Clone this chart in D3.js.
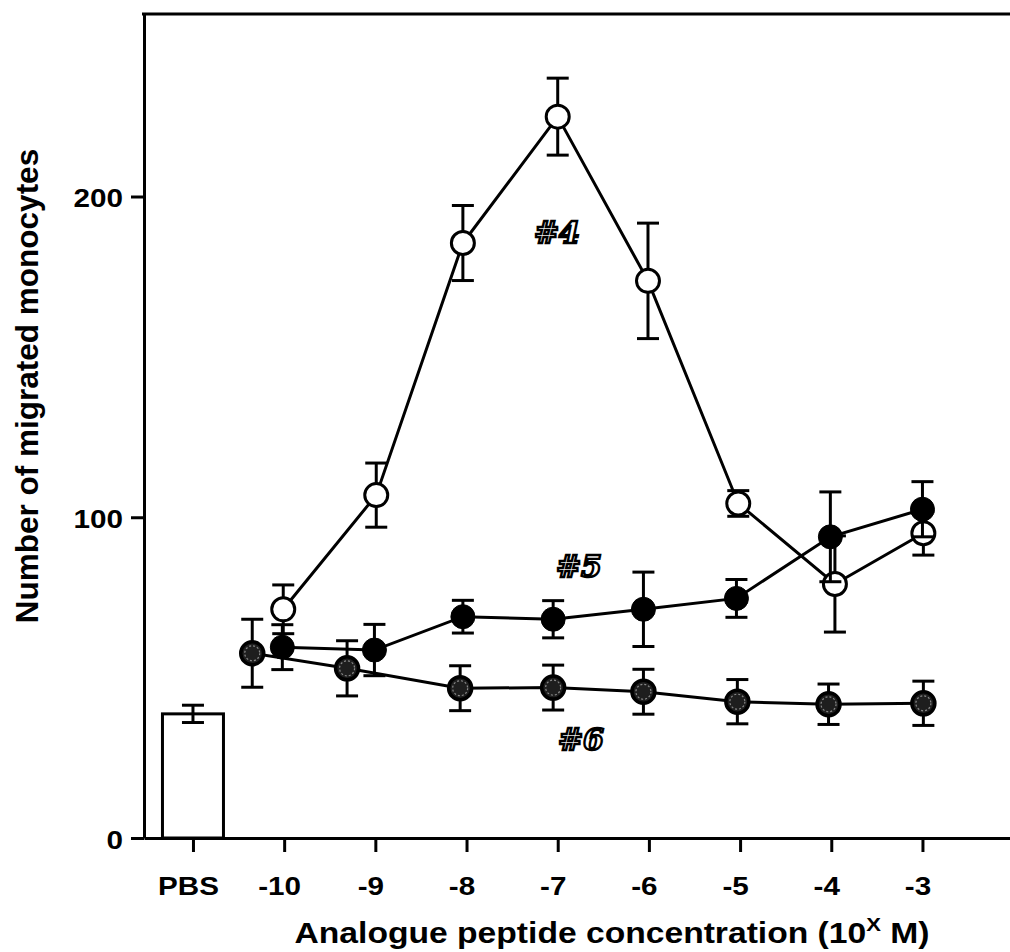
<!DOCTYPE html>
<html><head><meta charset="utf-8">
<script src="https://cdn.jsdelivr.net/npm/d3@7"></script>
<style>body{margin:0;background:#fff;} svg{display:block;}</style>
</head><body>
<svg id="chart" width="1010" height="952"></svg>
<script>
// Axis ticks (log10 molar concentration; PBS control sits at -11)
const tickValues = [-11, -10, -9, -8, -7, -6, -5, -4, -3];
const tickLabels = ["PBS", "-10", "-9", "-8", "-7", "-6", "-5", "-4", "-3"];
const yTickValues = [0, 100, 200];

// PBS control bar
const pbsX = -11;
const pbsMean = 38.7;
const pbsErr = 2.7;

// Analogue #4 (open circles)
const p4X = [-10.01, -8.99, -8.04, -7.0, -6.01, -5.02, -3.96, -2.99];
const p4Y = [71.3, 106.9, 185.5, 224.9, 173.7, 104.3, 79.2, 95.0];
const p4Err = [7.6, 10, 11.7, 12, 18, 4, 15, 6.8];

// Analogue #5 (filled circles)
const p5X = [-10.02, -9.01, -8.04, -7.05, -6.06, -5.04, -4.01, -3.0];
const p5Y = [59.5, 58.6, 69.0, 68.2, 71.3, 74.7, 93.9, 102.5];
const p5Err = [7, 8, 5.1, 5.8, 11.6, 5.9, 14, 8.6];

// Analogue #6 (shaded circles)
const p6X = [-10.35, -9.31, -8.07, -7.05, -6.06, -5.03, -4.03, -2.99];
const p6Y = [57.6, 52.9, 46.7, 46.9, 45.6, 42.5, 41.7, 42.0];
const p6Err = [10.6, 8.6, 7, 7, 7, 6.9, 6.3, 6.9];

const svg = d3.select("#chart");
const FONT = "'Liberation Sans', Arial, Helvetica, sans-serif";
const WIDE = 1.14; // horizontal stretch of the bold sans lettering

const x = d3.scaleLinear().domain([-11.537, -2.04]).range([144, 1010]);
const y = d3.scaleLinear().domain([0, 256.9]).range([838, 14]);

const zip = (xs, ys, es) => xs.map((v, i) => ({x: v, y: ys[i], e: es[i]}));
const s4 = zip(p4X, p4Y, p4Err);
const s5 = zip(p5X, p5Y, p5Err);
const s6 = zip(p6X, p6Y, p6Err);

// Frame: top rule
svg.append("line")
  .attr("x1", 142).attr("x2", 1010).attr("y1", y.range()[1]).attr("y2", y.range()[1])
  .attr("stroke", "#000").attr("stroke-width", 3);

// X axis
const xAxis = svg.append("g").attr("transform", `translate(0,${y(0)})`)
  .call(d3.axisBottom(x).tickValues(tickValues)
    .tickFormat((d, i) => tickLabels[i]).tickSize(14).tickSizeOuter(0));
xAxis.select(".domain").attr("stroke-width", 3);
xAxis.selectAll(".tick line").attr("stroke-width", 3);
xAxis.selectAll(".tick text")
  .attr("y", 57).attr("dy", 0).attr("x", -5 / WIDE)
  .attr("transform", `scale(${WIDE},1)`)
  .attr("font-family", FONT).attr("font-weight", "bold").attr("font-size", 26).attr("fill", "#000");

// Y axis
const yAxis = svg.append("g").attr("transform", `translate(${x.range()[0]},0)`)
  .call(d3.axisLeft(y).tickValues(yTickValues).tickFormat(d3.format("d"))
    .tickSize(13).tickSizeOuter(0));
yAxis.select(".domain").attr("stroke-width", 3);
yAxis.selectAll(".tick line").attr("stroke-width", 3);
yAxis.selectAll(".tick text")
  .attr("x", -21 / WIDE).attr("dy", "0.4em")
  .attr("transform", `scale(${WIDE},1)`)
  .attr("font-family", FONT).attr("font-weight", "bold").attr("font-size", 26).attr("fill", "#000");

// Axis titles
svg.append("text")
  .attr("transform", `translate(612,943) scale(1.16,1)`)
  .attr("text-anchor", "middle")
  .attr("font-family", FONT).attr("font-weight", "bold").attr("font-size", 29)
  .call(t => {
    t.append("tspan").text("Analogue peptide concentration (10");
    t.append("tspan").text("X").attr("font-size", 19).attr("dy", -12);
    t.append("tspan").text(" M)").attr("dy", 12);
  });

svg.append("text")
  .attr("transform", "translate(38,386) rotate(-90)")
  .attr("text-anchor", "middle")
  .attr("font-family", FONT).attr("font-weight", "bold").attr("font-size", 31.5)
  .text("Number of migrated monocytes");

// PBS control bar with error bar
const barW = 61;
svg.append("rect")
  .attr("x", x(pbsX) - barW / 2).attr("y", y(pbsMean))
  .attr("width", barW).attr("height", y(0) - y(pbsMean))
  .attr("fill", "#fff").attr("stroke", "#000").attr("stroke-width", 3);

const capW = 22;
function errorBars(data) {
  const g = svg.append("g").attr("stroke", "#000").attr("stroke-width", 3);
  data.forEach(d => {
    const cx = x(d.x), top = y(d.y + d.e), bot = y(d.y - d.e);
    g.append("line").attr("x1", cx).attr("x2", cx).attr("y1", top).attr("y2", bot);
    g.append("line").attr("x1", cx - capW / 2).attr("x2", cx + capW / 2).attr("y1", top).attr("y2", top);
    g.append("line").attr("x1", cx - capW / 2).attr("x2", cx + capW / 2).attr("y1", bot).attr("y2", bot);
  });
}
errorBars([{x: pbsX, y: pbsMean, e: pbsErr}]);

// Connecting lines
const line = d3.line().x(d => x(d.x)).y(d => y(d.y));
[s4, s5, s6].forEach(s => {
  svg.append("path").datum(s).attr("d", line)
    .attr("fill", "none").attr("stroke", "#000").attr("stroke-width", 3);
});

// #4 : open circles
errorBars(s4);
svg.append("g").selectAll("circle").data(s4).join("circle")
  .attr("cx", d => x(d.x)).attr("cy", d => y(d.y)).attr("r", 11.5)
  .attr("fill", "#fff").attr("stroke", "#000").attr("stroke-width", 3);

// #5 : filled circles
errorBars(s5);
svg.append("g").selectAll("circle").data(s5).join("circle")
  .attr("cx", d => x(d.x)).attr("cy", d => y(d.y)).attr("r", 12)
  .attr("fill", "#000").attr("stroke", "#000").attr("stroke-width", 1);

// #6 : shaded circles with dotted inner ring
errorBars(s6);
const g6 = svg.append("g");
g6.selectAll("circle.outer").data(s6).join("circle").attr("class", "outer")
  .attr("cx", d => x(d.x)).attr("cy", d => y(d.y)).attr("r", 11.5)
  .attr("fill", "#1e1e1e").attr("stroke", "#000").attr("stroke-width", 3.5);
g6.selectAll("circle.inner").data(s6).join("circle").attr("class", "inner")
  .attr("cx", d => x(d.x)).attr("cy", d => y(d.y)).attr("r", 7.5)
  .attr("fill", "none").attr("stroke", "#8a8a8a").attr("stroke-width", 1.2)
  .attr("stroke-dasharray", "2,2");

// Series labels
const seriesLabels = [
  {text: "#4", px: 557, py: 243},
  {text: "#5", px: 579, py: 577},
  {text: "#6", px: 581, py: 750}
];
svg.append("g").selectAll("text").data(seriesLabels).join("text")
  .attr("x", d => d.px).attr("y", d => d.py).attr("text-anchor", "middle")
  .attr("font-family", "'DejaVu Serif', serif").attr("font-style", "italic")
  .attr("font-weight", "bold").attr("font-size", 30)
  .attr("fill", "#fff").attr("stroke", "#000").attr("stroke-width", 2.4)
  .text(d => d.text);
</script>
</body></html>
